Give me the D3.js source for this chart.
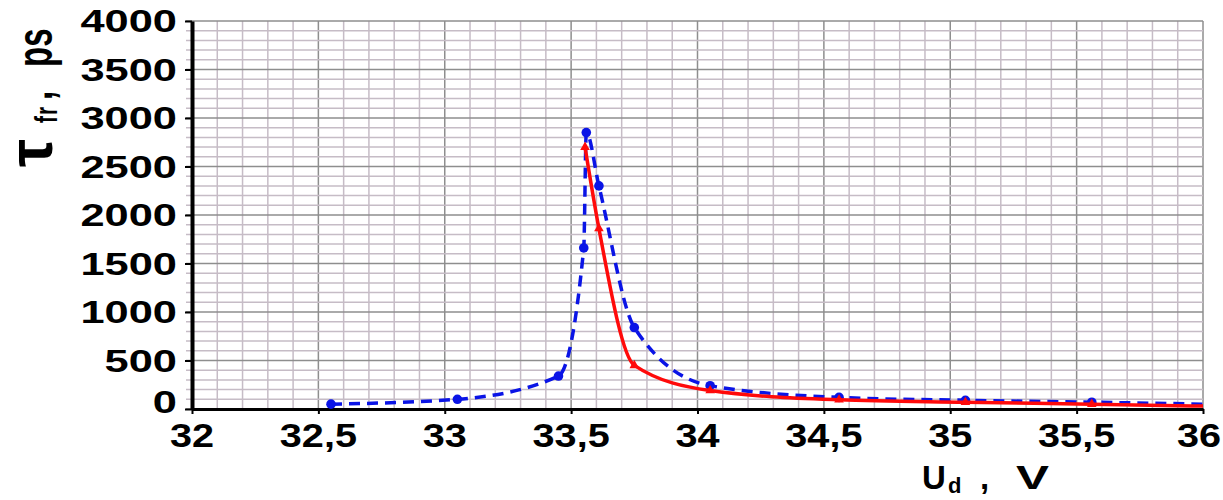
<!DOCTYPE html>
<html>
<head>
<meta charset="utf-8">
<script src="https://cdn.jsdelivr.net/npm/d3@7/dist/d3.min.js"></script>
<style>
body { margin: 0; background: #fff; }
svg { display: block; font-family: "Liberation Sans", Arial, sans-serif; font-weight: bold; }
</style>
</head>
<body>
<svg id="chart" width="1223" height="500"></svg>
<script>
// blue dashed series (circles)
const blueU = [32.55, 33.05, 33.45, 33.55, 33.56, 33.61, 33.75, 34.05, 34.56, 35.06, 35.56, 36.0];
const blueT = [50, 100, 340, 1660, 2850, 2300, 840, 240, 120, 90, 70, 50];
// red solid series (triangles)
const redU = [33.555, 33.61, 33.75, 34.05, 34.56, 35.06, 35.56, 36.0];
const redT = [2700, 1860, 450, 190, 95, 70, 50, 30];

const xTicks = [32, 32.5, 33, 33.5, 34, 34.5, 35, 35.5, 36];
const yTicks = [0, 500, 1000, 1500, 2000, 2500, 3000, 3500, 4000];

const svg = d3.select('#chart');
const x = d3.scaleLinear().domain([32, 36]).range([192, 1203]);
const y = d3.scaleLinear().domain([0, 4000]).range([409, 21]);

// grid: minor every 0.1 V / 100 ps, major every 0.5 V / 500 ps
const vLines = d3.range(0, 41).map(i => ({ v: 32 + i * 0.1, major: i % 5 === 0 }));
const hLines = d3.range(0, 41).map(i => ({ v: i * 100, major: i % 5 === 0 }));
const grid = svg.append('g');
grid.selectAll('line.v')
    .data(vLines.filter(d => !d.major).concat(vLines.filter(d => d.major)))
    .join('line')
    .attr('x1', d => x(d.v)).attr('x2', d => x(d.v))
    .attr('y1', y(4000)).attr('y2', y(0))
    .attr('stroke', d => d.major ? '#8e8e8e' : '#c6bcc6')
    .attr('stroke-width', 1.5);
grid.selectAll('line.h')
    .data(hLines.filter(d => !d.major).concat(hLines.filter(d => d.major)))
    .join('line')
    .attr('x1', 186).attr('x2', x(36))
    .attr('y1', d => y(d.v)).attr('y2', d => y(d.v))
    .attr('stroke', d => d.major ? '#8e8e8e' : '#c6bcc6')
    .attr('stroke-width', 1.5);

// axes
const yAxis = svg.append('g').attr('transform', 'translate(192,0)')
    .call(d3.axisLeft(y).tickValues(yTicks).tickSize(7).tickSizeOuter(0).tickFormat(''));
yAxis.select('.domain').attr('stroke', '#000').attr('stroke-width', 4);
yAxis.selectAll('.tick line').attr('stroke', '#000').attr('stroke-width', 2);

const xAxis = svg.append('g').attr('transform', `translate(0,${y(0)})`)
    .call(d3.axisBottom(x).tickValues(xTicks).tickSize(5).tickSizeOuter(0).tickFormat(''));
xAxis.select('.domain').attr('stroke', '#000').attr('stroke-width', 3);
xAxis.selectAll('.tick line').attr('stroke', '#000').attr('stroke-width', 2);

svg.append('g').selectAll('text')
    .data(yTicks)
    .join('text')
    .attr('transform', d => `translate(177,${y(d) + 11 - (d === 0 ? 7 : 0)}) scale(1.4,1)`)
    .attr('text-anchor', 'end')
    .attr('font-size', 31)
    .text(d => d);

svg.append('g').selectAll('text')
    .data(xTicks)
    .join('text')
    .attr('transform', d => `translate(${Math.min(x(d), 1199)},447) scale(1.2,1)`)
    .attr('text-anchor', 'middle')
    .attr('font-size', 33)
    .text(d => String(d).replace('.', ','));

// series
const blue = blueU.map((u, i) => ({ u, t: blueT[i] }));
const red = redU.map((u, i) => ({ u, t: redT[i] }));
const line = d3.line().x(d => x(d.u)).y(d => y(d.t)).curve(d3.curveMonotoneX);

svg.append('path').datum(blue)
    .attr('d', line)
    .attr('fill', 'none')
    .attr('stroke', '#0a14e6')
    .attr('stroke-width', 3.5)
    .attr('stroke-dasharray', '11,7');
svg.append('g').selectAll('circle')
    .data(blue.slice(0, -1))
    .join('circle')
    .attr('cx', d => x(d.u)).attr('cy', d => y(d.t))
    .attr('r', 4.8)
    .attr('fill', '#0a14e6');

svg.append('path').datum(red)
    .attr('d', line)
    .attr('fill', 'none')
    .attr('stroke', '#ff0a0a')
    .attr('stroke-width', 3.5);
svg.append('g').selectAll('path')
    .data(red.slice(0, -1))
    .join('path')
    .attr('d', d3.symbol().type(d3.symbolTriangle).size(40))
    .attr('transform', d => `translate(${x(d.u)},${y(d.t)})`)
    .attr('fill', '#ff0a0a');

// axis titles
const yl = svg.append('g').attr('transform', 'translate(52,167) scale(1.5,1) rotate(-90)');
yl.append('text').attr('transform', 'scale(1.5,1)').attr('font-size', 42).text('τ');
yl.append('text').attr('x', 44).attr('y', 3).attr('font-size', 21).attr('letter-spacing', 1).text('fr');
yl.append('text').attr('x', 67).attr('font-size', 33).text(',');
yl.append('text').attr('x', 100).attr('font-size', 33).text('ps');

const xl = svg.append('g').attr('font-size', 33);
xl.append('text').attr('x', 922).attr('y', 489).text('U');
xl.append('text').attr('x', 948).attr('y', 493).attr('font-size', 22).text('d');
xl.append('text').attr('x', 980).attr('y', 489).text(',');
xl.append('text').attr('transform', 'translate(1016,489) scale(1.5,1)').text('V');
</script>
</body>
</html>
